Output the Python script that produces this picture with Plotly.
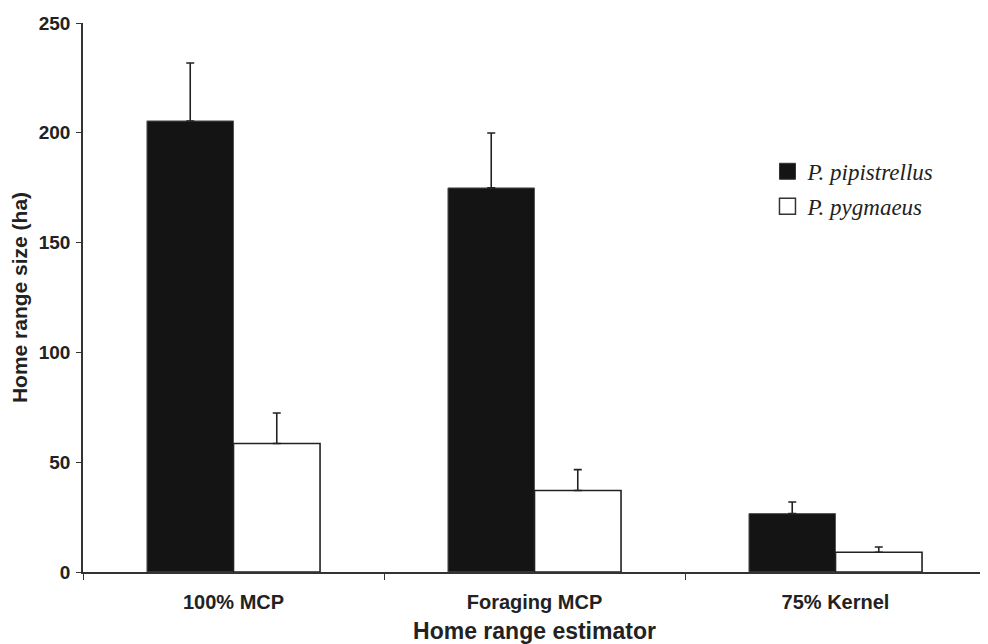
import plotly.graph_objects as go

categories = ["100% MCP", "Foraging MCP", "75% Kernel"]
pipistrellus = [205.4, 174.9, 26.6]
pipistrellus_se = [26.4, 25.0, 5.3]
pygmaeus = [58.5, 37.1, 9.0]
pygmaeus_se = [13.9, 9.5, 2.4]
y_ticks = [0, 50, 100, 150, 200, 250]
series_names = ["P. pipistrellus", "P. pygmaeus"]

sans = "Liberation Sans, Arial, sans-serif"
serif = "Liberation Serif, Times New Roman, serif"

fig = go.Figure()
fig.add_trace(go.Bar(
    x=categories, y=pipistrellus, name=series_names[0], showlegend=False,
    marker=dict(color="#141414", line=dict(color="#555555", width=1)),
    error_y=dict(type="data", array=pipistrellus_se, symmetric=False,
                 arrayminus=[0, 0, 0], color="#222222", thickness=1.6, width=4),
))
fig.add_trace(go.Bar(
    x=categories, y=pygmaeus, name=series_names[1], showlegend=False,
    marker=dict(color="white", line=dict(color="#222222", width=1.6)),
    error_y=dict(type="data", array=pygmaeus_se, symmetric=False,
                 arrayminus=[0, 0, 0], color="#222222", thickness=1.6, width=4),
))
# legend entries
fig.add_trace(go.Scatter(
    x=[None], y=[None], mode="markers", name="<i>" + series_names[0] + "</i>",
    legendgroup="a",
    marker=dict(symbol="square", size=20, color="#141414", line=dict(color="#333333", width=1)),
))
fig.add_trace(go.Scatter(
    x=[None], y=[None], mode="markers", name="<i>" + series_names[1] + "</i>",
    legendgroup="b",
    marker=dict(symbol="square", size=20, color="white", line=dict(color="#333333", width=1.5)),
))

fig.update_layout(
    width=980, height=636,
    margin=dict(l=75, r=2, t=15, b=72),
    paper_bgcolor="white", plot_bgcolor="white",
    barmode="group", bargap=0.425, bargroupgap=0,
    showlegend=True,
    legend=dict(
        x=0.758, y=0.769, xanchor="left", yanchor="top",
        font=dict(family=serif, size=23, color="#222222"),
        bgcolor="rgba(0,0,0,0)", itemsizing="trace", tracegroupgap=2,
    ),
    xaxis=dict(
        type="category", tickson="boundaries", ticks="outside", ticklen=6,
        tickcolor="#333333", tickwidth=1, automargin=False,
        showline=True, linecolor="#333333", linewidth=1.5,
        showgrid=False, zeroline=False, ticklabelstandoff=11,
        tickfont=dict(family=sans, size=20, color="#222222", weight="bold"),
        title=dict(text="Home range estimator", standoff=14,
                   font=dict(family=sans, size=23, color="#222222", weight="bold")),
    ),
    yaxis=dict(
        range=[0, 250], tickvals=y_ticks, ticks="outside", ticklen=5,
        tickcolor="#333333", tickwidth=1, automargin=False,
        showline=True, linecolor="#333333", linewidth=1.5,
        showgrid=False, zeroline=False, ticklabelstandoff=2,
        tickfont=dict(family=sans, size=19, color="#222222", weight="bold"),
        title=dict(text="Home range size (ha)", standoff=8,
                   font=dict(family=sans, size=21, color="#222222", weight="bold")),
    ),
)

fig.write_html("out.html")
